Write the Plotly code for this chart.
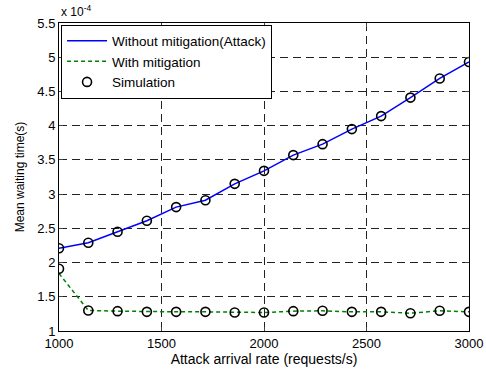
import plotly.graph_objects as go

rates = [1000, 1142.86, 1285.71, 1428.57, 1571.43, 1714.29, 1857.14, 2000,
         2142.86, 2285.71, 2428.57, 2571.43, 2714.29, 2857.14, 3000]
without_mitigation = [2.21, 2.29, 2.45, 2.61, 2.81, 2.91, 3.15, 3.34,
                      3.57, 3.73, 3.95, 4.14, 4.41, 4.69, 4.93]
with_mitigation = [1.84, 1.30, 1.29, 1.28, 1.28, 1.28, 1.27, 1.27,
                   1.29, 1.295, 1.28, 1.28, 1.26, 1.295, 1.28]
sim_without = [2.21, 2.29, 2.45, 2.61, 2.81, 2.91, 3.15, 3.34,
               3.57, 3.73, 3.95, 4.14, 4.41, 4.69, 4.93]
sim_with = [1.91, 1.30, 1.29, 1.28, 1.28, 1.28, 1.27, 1.27,
            1.29, 1.295, 1.28, 1.28, 1.26, 1.295, 1.28]
x_ticks = [1000, 1500, 2000, 2500, 3000]
y_ticks = [1, 1.5, 2, 2.5, 3, 3.5, 4, 4.5, 5, 5.5]
y_tick_text = ["1", "1.5", "2", "2.5", "3", "3.5", "4", "4.5", "5", "5.5"]

FONT = "Liberation Sans, Arial, sans-serif"

fig = go.Figure()
fig.add_trace(go.Scatter(x=rates, y=without_mitigation, mode="lines",
                         name="Without mitigation(Attack)",
                         line=dict(color="#0000ff", width=1.5)))
fig.add_trace(go.Scatter(x=rates, y=with_mitigation, mode="lines",
                         name="With mitigation",
                         line=dict(color="#008000", width=1.5, dash="4px,3px")))
fig.add_trace(go.Scatter(x=rates + rates, y=sim_without + sim_with, mode="markers",
                         name="Simulation",
                         marker=dict(symbol="circle-open", size=9, color="black",
                                     line=dict(width=1.6, color="black"))))

grid = dict(showgrid=True, gridcolor="#222222", griddash="8px,5px", gridwidth=1)

fig.update_layout(
    width=486, height=370,
    margin=dict(l=59, r=17, t=23, b=39),
    paper_bgcolor="white", plot_bgcolor="white",
    font=dict(family=FONT, size=13, color="black"),
    showlegend=True,
    legend=dict(x=0.005, y=0.995, xanchor="left", yanchor="top",
                bgcolor="white", bordercolor="black", borderwidth=1,
                font=dict(family=FONT, size=13.5), tracegroupgap=0,
                itemwidth=40),
    xaxis=dict(range=[1000, 3000], tickvals=x_ticks, ticks="inside", ticklen=4,
               showline=True, linecolor="black", linewidth=1, mirror="ticks",
               zeroline=False, automargin=False,
               title=dict(text="Attack arrival rate (requests/s)", standoff=3,
                          font=dict(family=FONT, size=14)),
               tickfont=dict(family=FONT, size=13), **grid),
    yaxis=dict(range=[1, 5.5], tickvals=y_ticks, ticktext=y_tick_text,
               ticks="inside", ticklen=4,
               showline=True, linecolor="black", linewidth=1, mirror="ticks",
               zeroline=False, automargin=False,
               title=dict(text="Mean waiting time(s)", standoff=10,
                          font=dict(family=FONT, size=12)),
               tickfont=dict(family=FONT, size=13), **grid),
)
fig.add_annotation(text="x 10<sup>-4</sup>", xref="paper", yref="paper",
                   x=0.0, y=1.0, xanchor="left", yanchor="bottom", showarrow=False,
                   font=dict(family=FONT, size=12), yshift=2)

fig.write_html("out.html", config={"displayModeBar": False},
               post_script="document.body.style.margin='0';document.body.style.padding='0';")
